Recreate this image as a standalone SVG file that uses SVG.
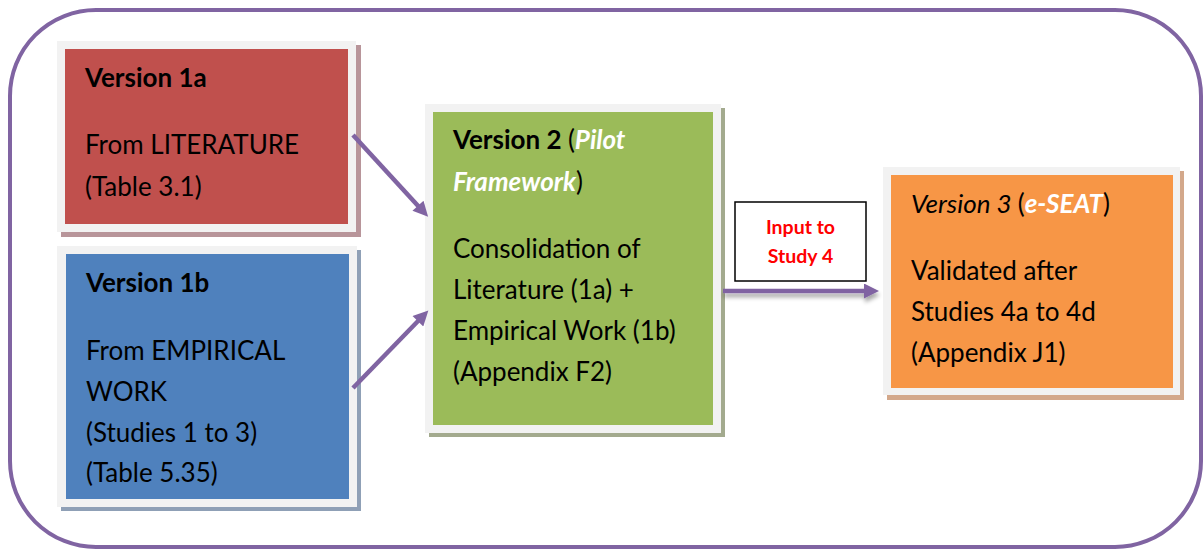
<svg xmlns="http://www.w3.org/2000/svg" width="1203" height="550" viewBox="0 0 1203 550">
<style>
  .frame { fill: #F2F2F2; }
  .t { font-family: Lato, "Liberation Sans", sans-serif; font-size: 26px; fill: #000; }
  .b { font-weight: bold; }
  .i { font-style: italic; }
  .w { fill: #FFFFFF; }
  .conn { stroke: #8064A2; stroke-width: 4.5; fill: none; }
  .lbl { font-family: Lato, "Liberation Sans", sans-serif; font-size: 19.5px; font-weight: bold; fill: #FF0000; }
</style>
<defs>
  <marker id="ah" viewBox="0 0 10 10" refX="2" refY="5" markerWidth="17" markerHeight="15" markerUnits="userSpaceOnUse" orient="auto">
    <path d="M0,0 L10,5 L0,10 Z" fill="#8064A2"/>
  </marker>
  <filter id="sh" filterUnits="userSpaceOnUse" x="700" y="270" width="200" height="50">
    <feGaussianBlur in="SourceAlpha" stdDeviation="2"/>
    <feOffset dx="1" dy="4" result="o"/>
    <feComponentTransfer><feFuncA type="linear" slope="0.35"/></feComponentTransfer>
    <feMerge><feMergeNode/><feMergeNode in="SourceGraphic"/></feMerge>
  </filter>
</defs>
<rect width="1203" height="550" fill="#FFFFFF"/>
<rect id="outer" x="10" y="10" width="1191" height="537" rx="86" ry="86" fill="none" stroke="#8064A2" stroke-width="4"/>

<g id="node-1a">
  <rect x="61" y="45" width="300" height="192" fill="#B8959A"/>
  <rect class="frame" x="57" y="41" width="299" height="191"/>
  <rect x="65" y="49" width="283" height="175" fill="#C0504D"/>
  <text class="t" x="85" y="87"><tspan class="b">Version 1a</tspan></text>
  <text class="t" x="85" y="154">From LITERATURE</text>
  <text class="t" x="85" y="196">(Table 3.1)</text>
</g>

<g id="node-1b">
  <rect x="61" y="250" width="300" height="261" fill="#8FA0B6"/>
  <rect class="frame" x="57" y="246" width="300" height="261"/>
  <rect x="66" y="254" width="283" height="245" fill="#4F81BD"/>
  <text class="t" x="86" y="292"><tspan class="b">Version 1b</tspan></text>
  <text class="t" x="86" y="360">From EMPIRICAL</text>
  <text class="t" x="86" y="401">WORK</text>
  <text class="t" x="86" y="442">(Studies 1 to 3)</text>
  <text class="t" x="86" y="482">(Table 5.35)</text>
</g>

<g id="node-2">
  <rect x="429" y="108" width="296" height="329" fill="#A3AA8E"/>
  <rect class="frame" x="425" y="104" width="296" height="329"/>
  <rect x="433" y="112" width="280" height="313" fill="#9BBB59"/>
  <text class="t" x="453" y="149"><tspan class="b">Version 2 </tspan><tspan>(</tspan><tspan class="b i w">Pilot</tspan></text>
  <text class="t" x="453" y="191"><tspan class="b i w">Framework</tspan><tspan>)</tspan></text>
  <text class="t" x="453" y="258">Consolidation of</text>
  <text class="t" x="453" y="299">Literature (1a) +</text>
  <text class="t" x="453" y="340">Empirical Work (1b)</text>
  <text class="t" x="453" y="381">(Appendix F2)</text>
</g>

<g id="node-3">
  <rect x="887" y="171" width="297" height="229" fill="#D3A88B"/>
  <rect class="frame" x="883" y="167" width="297" height="228"/>
  <rect x="891" y="175" width="282" height="213" fill="#F79646"/>
  <text class="t" x="911" y="213"><tspan class="i">Version 3 </tspan><tspan>(</tspan><tspan class="b i w">e-SEAT</tspan><tspan>)</tspan></text>
  <text class="t" x="911" y="280">Validated after</text>
  <text class="t" x="911" y="321">Studies 4a to 4d</text>
  <text class="t" x="911" y="362">(Appendix J1)</text>
</g>

<g id="label-input">
  <rect x="735" y="202" width="131" height="79" fill="#FFFFFF" stroke="#000000" stroke-width="1.5"/>
  <text class="lbl" x="800.5" y="234" text-anchor="middle">Input to</text>
  <text class="lbl" x="800.5" y="263" text-anchor="middle">Study 4</text>
</g>

<g id="connectors">
  <line class="conn" x1="353" y1="135" x2="420" y2="208" marker-end="url(#ah)"/>
  <line class="conn" x1="353" y1="388" x2="420" y2="319" marker-end="url(#ah)"/>
  <g filter="url(#sh)">
    <line class="conn" x1="723" y1="291" x2="867" y2="291" stroke-width="5" marker-end="url(#ah)"/>
  </g>
</g>
</svg>
